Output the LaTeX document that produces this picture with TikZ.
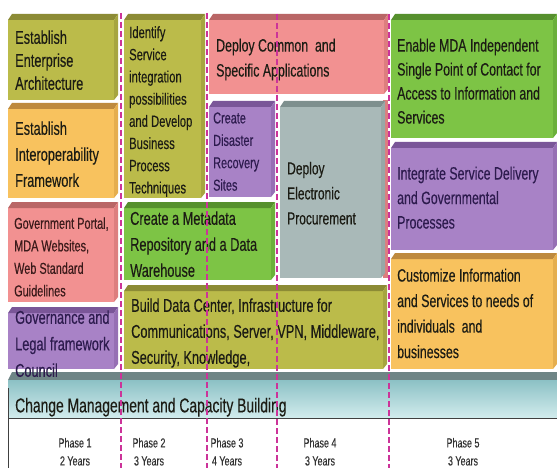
\documentclass[tikz,border=0pt]{standalone}
\usepackage{fontspec}
\setmainfont[FakeStretch=0.69,FakeBold=0.3]{Liberation Sans}
\definecolor{olive}{HTML}{BBBB4A}
\definecolor{oliveD}{HTML}{8C8B35}
\definecolor{oliveS}{HTML}{A6A540}
\definecolor{orng}{HTML}{F8C25E}
\definecolor{orngD}{HTML}{BE8A3E}
\definecolor{orngS}{HTML}{E5AE4E}
\definecolor{pnk}{HTML}{F29191}
\definecolor{pnkD}{HTML}{B96666}
\definecolor{pnkS}{HTML}{DD7E7E}
\definecolor{prp}{HTML}{A882C6}
\definecolor{prpD}{HTML}{7A5698}
\definecolor{prpS}{HTML}{966FB4}
\definecolor{grn}{HTML}{7DC445}
\definecolor{grnD}{HTML}{56902D}
\definecolor{grnS}{HTML}{6BB03A}
\definecolor{gry}{HTML}{A9B9B8}
\definecolor{gryD}{HTML}{7E8F8E}
\definecolor{gryS}{HTML}{98A8A7}
\definecolor{barT}{HTML}{8CC1C5}
\definecolor{barB}{HTML}{D2ECED}
\definecolor{barD}{HTML}{6E8586}
\definecolor{dashc}{HTML}{CC3399}
\definecolor{txtc}{HTML}{1C1C14}
\definecolor{txtp}{HTML}{2D1B4E}
\definecolor{txtr}{HTML}{3A1A1A}
\newcommand\blk[5]{%
  \fill[#5] (#1,#2+6) rectangle (#3-4,#4);
  \fill[#5D] (#1,#2+6) -- (#1+4,#2) -- (#3,#2) -- (#3-4,#2+6) -- cycle;
  \fill[#5S] (#3-4,#2+6) -- (#3,#2) -- (#3,#4-5) -- (#3-4,#4) -- cycle;
}
\tikzset{
  lbl/.style={anchor=north west, inner sep=0pt, align=left, text=txtc},
  phase/.style={anchor=north, inner sep=0pt, align=center, text=black!80,
    font=\fontsize{13}{18}\selectfont},
  phdash/.style={draw=dashc, line width=1.2pt, dash pattern=on 6pt off 3pt}
}
\begin{document}
\begin{tikzpicture}[x=1pt,y=-1pt]
\useasboundingbox[fill=white] (0,0) rectangle (557,468);
% blocks
\fill[pnkS] (383,100) rectangle (388,278);
\blk{8}{14}{118}{100}{olive}
\blk{8}{103}{118}{198}{orng}
\blk{124}{14}{205}{198}{olive}
\blk{209}{14}{388}{94}{pnk}
\blk{209}{101}{275}{197}{prp}
\blk{280}{101}{385}{278}{gry}
\blk{8}{202}{118}{302}{pnk}
\blk{124}{202}{275}{280}{grn}
\blk{124}{285}{387}{369}{olive}
\blk{8}{307}{118}{369}{prp}
\blk{391}{14}{557}{138}{grn}
\blk{391}{142}{557}{250}{prp}
\blk{391}{253}{557}{369}{orng}
% bar
\fill[barD] (8,380) -- (12,372) -- (557,372) -- (557,380) -- cycle;
\shade[top color=barT, bottom color=barB] (8,380) rectangle (557,418);
% texts
\node[lbl, font=\fontsize{18.5}{23}\selectfont] (tA) at (15,30.2) {Establish\\Enterprise\\Architecture};
\node[lbl, font=\fontsize{18.5}{26}\selectfont] (tB) at (15,121.2) {Establish\\Interoperability\\Framework};
\node[lbl, font=\fontsize{16.3}{22.2}\selectfont] (tC) at (129,26) {Identify\\Service\\integration\\possibilities\\and Develop\\Business\\Process\\Techniques};
\node[lbl, font=\fontsize{17.9}{25}\selectfont] (tD) at (216,38.4) {Deploy Common\ \ and\\Specific Applications};
\node[lbl, text=txtp, font=\fontsize{15.8}{22.4}\selectfont] (tE) at (213,112.2) {Create\\Disaster\\Recovery\\Sites};
\node[lbl, font=\fontsize{17.4}{25}\selectfont] (tF) at (287,161.6) {Deploy\\Electronic\\Procurement};
\node[lbl, text=txtr, font=\fontsize{15.8}{22.5}\selectfont] (tG) at (14,217.2) {Government Portal,\\MDA Websites,\\Web Standard\\Guidelines};
\node[lbl, font=\fontsize{18.5}{26}\selectfont] (tH) at (130,211.2) {Create a Metadata\\Repository and a Data\\Warehouse};
\node[lbl, font=\fontsize{18.5}{26}\selectfont] (tI) at (131,298.2) {Build Data Center, Infrastructure for\\Communications, Server, VPN, Middleware,\\Security, Knowledge,};
\node[lbl, text=txtp, font=\fontsize{18.5}{26.5}\selectfont] (tJ) at (15,310.2) {Governance and\\Legal framework\\Council};
\node[lbl, font=\fontsize{17.9}{24}\selectfont] (tK) at (397,38.4) {Enable MDA Independent\\Single Point of Contact for\\Access to Information and\\Services};
\node[lbl, text=txtp, font=\fontsize{17.9}{24.5}\selectfont] (tL) at (397,166.4) {Integrate Service Delivery\\and Governmental\\Processes};
\node[lbl, font=\fontsize{17.9}{25.5}\selectfont] (tM) at (397,268.4) {Customize Information\\and Services to needs of\\individuals\ \ and\\businesses};
\node[lbl, font=\fontsize{20.1}{22}\selectfont] (tBar) at (15,397.6) {Change Management and Capacity Building};
% axis lines
\draw[black!75, line width=1pt] (8,418) -- (557,418);
\draw[black!75, line width=1pt] (8,388) -- (8,468);
% phases
\node[phase] (p1) at (75,437.8) {Phase 1\\2 Years};
\node[phase] (p2) at (149,437.8) {Phase 2\\3 Years};
\node[phase] (p3) at (227,437.8) {Phase 3\\4 Years};
\node[phase] (p4) at (320,437.8) {Phase 4\\3 Years};
\node[phase] (p5) at (463,437.8) {Phase 5\\3 Years};
% dashed separators
\draw[phdash] (121,13) -- (121,468);
\draw[phdash] (207,13) -- (207,468);
\draw[phdash] (277,14) -- (277,468);
\draw[phdash] (389,14) -- (389,468);
\end{tikzpicture}
\end{document}
